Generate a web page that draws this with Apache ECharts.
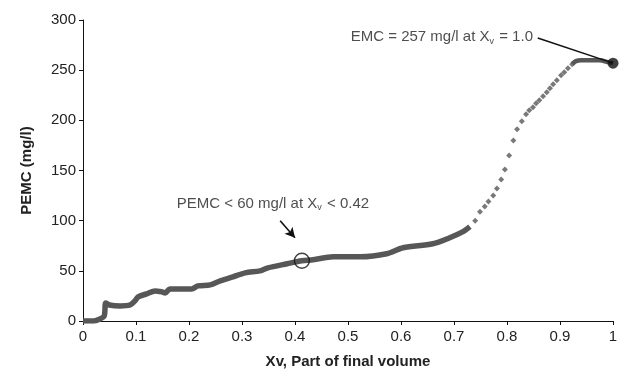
<!DOCTYPE html>
<html>
<head>
<meta charset="utf-8">
<script src="https://cdn.jsdelivr.net/npm/echarts@6/dist/echarts.min.js"></script>
<style>
  html, body { margin: 0; padding: 0; background: #fff; }
  #main { width: 622px; height: 374px; }
</style>
</head>
<body>
<div id="main"></div>
<script>
// dense part of the curve (looks like a thick line)
var denseX = [0, 0.02, 0.032, 0.04, 0.043, 0.05, 0.07, 0.089, 0.098, 0.104, 0.12, 0.136, 0.149, 0.155, 0.164, 0.183, 0.205, 0.217, 0.24, 0.259, 0.283, 0.306, 0.334, 0.349, 0.385, 0.413, 0.434, 0.472, 0.523, 0.573, 0.604, 0.66, 0.692, 0.717, 0.73];
var denseY = [0, 0, 2, 5, 18, 16, 15, 16, 20, 24, 27, 30, 29, 28, 32, 32, 32, 35, 36, 40, 44, 48, 50, 53, 57, 60, 61, 64, 64, 67, 73, 77, 83, 89, 94];
// sparse diamonds in the steep part
var sparseX = [0.74, 0.749, 0.758, 0.765, 0.774, 0.781, 0.789, 0.796, 0.804, 0.812, 0.819, 0.828, 0.836, 0.842, 0.849, 0.855, 0.861, 0.868, 0.875, 0.881, 0.887, 0.894, 0.902, 0.908, 0.915, 0.923];
var sparseY = [100, 109, 114, 119, 125, 132, 141, 151, 165, 180, 191, 199, 206, 210, 213, 217, 220, 224, 228, 232, 236, 240, 245, 248, 252, 256];
// top plateau
var topX = [0.923, 0.93, 0.94, 0.955, 0.975, 0.99, 1.0];
var topY = [256, 259, 260, 260, 260, 258, 257];

var emc = [1.0, 257];
var pemcMark = [0.413, 60];

var dense = denseX.map(function (x, i) { return [x, denseY[i]]; });
var sparse = sparseX.map(function (x, i) { return [x, sparseY[i]]; });
var top2 = topX.map(function (x, i) { return [x, topY[i]]; });

var curveColor = '#575757';
var font = 'Liberation Sans, Arial, sans-serif';

var chart = echarts.init(document.getElementById('main'));
chart.setOption({
    backgroundColor: '#fff',
    animation: false,
    grid: { left: 83, right: 9, top: 20, bottom: 51 },
    xAxis: {
        type: 'value', min: 0, max: 1, interval: 0.1,
        name: 'Xv, Part of final volume',
        nameLocation: 'middle', nameGap: 33,
        nameTextStyle: { fontFamily: font, fontWeight: 'bold', fontSize: 15, color: '#222' },
        axisLine: { lineStyle: { color: '#111', width: 1 } },
        axisTick: { show: true, length: 4, lineStyle: { color: '#111' } },
        axisLabel: { fontFamily: font, fontSize: 15, color: '#222', margin: 8 },
        splitLine: { show: false }
    },
    yAxis: {
        type: 'value', min: 0, max: 300, interval: 50,
        name: 'PEMC (mg/l)',
        nameLocation: 'middle', nameGap: 49, nameRotate: 90,
        nameTextStyle: { fontFamily: font, fontWeight: 'bold', fontSize: 15, color: '#222' },
        axisLine: { show: true, lineStyle: { color: '#111', width: 1 } },
        axisTick: { show: true, length: 4, lineStyle: { color: '#111' } },
        axisLabel: { fontFamily: font, fontSize: 15, color: '#222', margin: 7 },
        splitLine: { show: false }
    },
    series: [
        {
            type: 'line', data: dense, showSymbol: false, smooth: 0.3,
            lineStyle: { color: curveColor, width: 5.5 }
        },
        {
            type: 'scatter', data: sparse, symbol: 'diamond', symbolSize: 6,
            itemStyle: { color: curveColor }
        },
        {
            type: 'line', data: top2, showSymbol: false, smooth: 0.3,
            lineStyle: { color: curveColor, width: 4.5 }
        },
        {
            // end point + annotation
            type: 'scatter', data: [emc], symbol: 'circle', symbolSize: 11,
            itemStyle: { color: '#111' }, z: 5,
            markLine: {
                silent: true, symbol: ['none', 'none'],
                lineStyle: { color: '#111', width: 1.5, type: 'solid' },
                label: { show: false },
                data: [[{ coord: [0.858, 282] }, { coord: emc }]]
            }
        },
        {
            // open circle at PEMC < 60
            type: 'scatter', data: [pemcMark], symbol: 'circle', symbolSize: 15,
            itemStyle: { color: 'rgba(0,0,0,0)', borderColor: '#111', borderWidth: 1.4 }, z: 5,
            markLine: {
                silent: true, symbol: ['none', 'arrow'], symbolSize: [8, 10],
                lineStyle: { color: '#111', width: 1.6, type: 'solid' },
                label: { show: false },
                data: [[{ coord: [0.372, 100] }, { coord: [0.4, 83] }]]
            }
        },
        {
            type: 'scatter', symbolSize: 0, silent: true,
            data: [
                { value: [0.177, 117], label: { position: 'right', formatter: '{a|PEMC < 60 mg/l at X}{s|v}{a| < 0.42}' } },
                { value: [0.849, 283], label: { position: 'left', formatter: '{a|EMC = 257 mg/l at X}{s|v}{a| = 1.0}' } }
            ],
            label: {
                show: true, distance: 0,
                rich: {
                    a: { fontFamily: font, fontSize: 15, color: '#222' },
                    s: { fontFamily: font, fontSize: 9, color: '#222', padding: [8, 1, 0, 0] }
                }
            }
        }
    ]
});
</script>
</body>
</html>
